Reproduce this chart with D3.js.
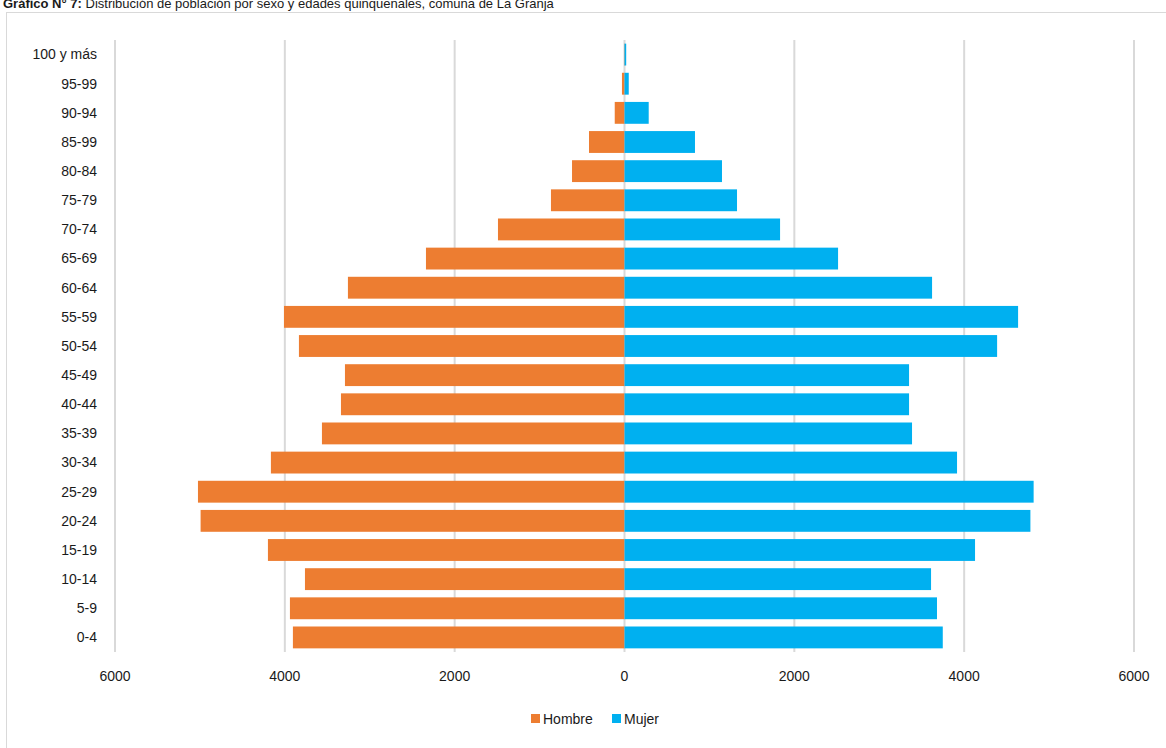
<!DOCTYPE html>
<meta charset="utf-8">
<style>
	body { margin: 0; background: #fff; }
	text { font-family: "Liberation Sans", Arial, sans-serif; fill: #1a1a1a; }
	.grid line { stroke: #d9d9d9; stroke-width: 2px; }
</style>
<svg width="1166" height="748"></svg>
<script src="https://cdn.jsdelivr.net/npm/d3@7"></script>
<script>

	var ages = ["100 y más", "95-99", "90-94", "85-99", "80-84", "75-79", "70-74", "65-69", "60-64",
		"55-59", "50-54", "45-49", "40-44", "35-39", "30-34", "25-29", "20-24", "15-19", "10-14", "5-9", "0-4"];
	var hombre = [5, 30, 115, 418, 618, 866, 1490, 2338, 3257, 4010, 3834, 3292, 3339, 3563, 4164, 5023, 4992, 4199, 3763, 3940, 3905];
	var mujer = [20, 50, 285, 830, 1148, 1325, 1832, 2515, 3622, 4635, 4388, 3351, 3351, 3386, 3916, 4818, 4780, 4128, 3610, 3680, 3748];
	var ticks = [-6000, -4000, -2000, 0, 2000, 4000, 6000];

	var svg = d3.select("svg");

	// frame and title
	svg.append("rect")
		.attr("x", 6.5).attr("y", 12.5)
		.attr("width", 1170).attr("height", 750)
		.attr("fill", "none").attr("stroke", "#d9d9d9");

	var title = svg.append("text").attr("x", 3).attr("y", 8).style("font-size", "13px");
	title.append("tspan").style("font-weight", "bold").text("Gráfico N° 7:");
	title.append("tspan").text(" Distribución de población por sexo y edades quinquenales, comuna de La Granja");

	var x = d3.scaleLinear().domain([-6000, 6000]).range([115, 1134]);
	var y = d3.scaleBand().domain(ages).range([40, 652]).paddingInner(0.25).paddingOuter(0.125);

	svg.append("g").attr("class", "grid")
		.selectAll("line").data(ticks).enter().append("line")
		.attr("x1", function (d) { return x(d); })
		.attr("x2", function (d) { return x(d); })
		.attr("y1", 40).attr("y2", 652);

	svg.append("g").selectAll("rect").data(ages).enter().append("rect")
		.attr("x", function (d, i) { return x(-hombre[i]); })
		.attr("y", function (d) { return y(d); })
		.attr("width", function (d, i) { return x(0) - x(-hombre[i]); })
		.attr("height", y.bandwidth())
		.attr("fill", "#ED7D31");

	svg.append("g").selectAll("rect").data(ages).enter().append("rect")
		.attr("x", x(0))
		.attr("y", function (d) { return y(d); })
		.attr("width", function (d, i) { return x(mujer[i]) - x(0); })
		.attr("height", y.bandwidth())
		.attr("fill", "#00B0F0");

	// category labels
	svg.append("g").selectAll("text").data(ages).enter().append("text")
		.attr("x", 97)
		.attr("y", function (d) { return y(d) + y.bandwidth() / 2; })
		.attr("dy", "0.35em")
		.attr("text-anchor", "end")
		.style("font-size", "14px")
		.text(function (d) { return d; });

	// x tick labels
	svg.append("g").selectAll("text").data(ticks).enter().append("text")
		.attr("x", function (d) { return x(d); })
		.attr("y", 681)
		.attr("text-anchor", "middle")
		.style("font-size", "14px")
		.text(function (d) { return Math.abs(d); });

	// legend
	var legend = svg.append("g").selectAll("g")
		.data([["Hombre", "#ED7D31", 531], ["Mujer", "#00B0F0", 612]])
		.enter().append("g");
	legend.append("rect")
		.attr("x", function (d) { return d[2]; }).attr("y", 714)
		.attr("width", 9).attr("height", 9)
		.attr("fill", function (d) { return d[1]; });
	legend.append("text")
		.attr("x", function (d) { return d[2] + 12; }).attr("y", 724)
		.style("font-size", "14px")
		.text(function (d) { return d[0]; });

</script>
